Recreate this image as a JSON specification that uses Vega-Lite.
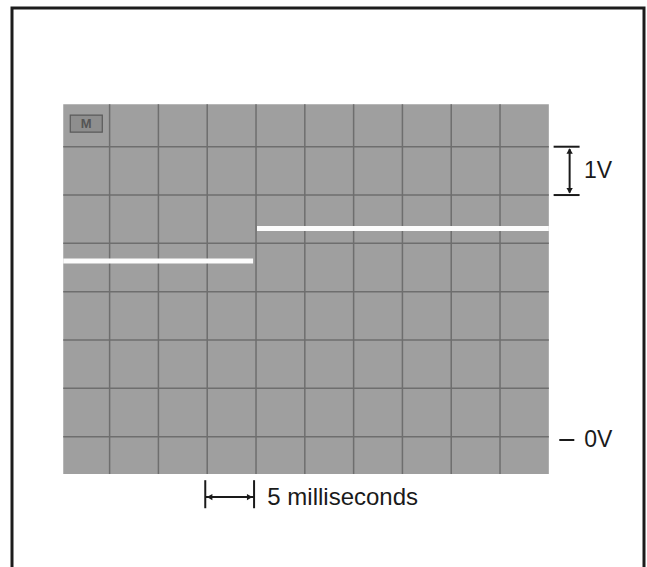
{
  "$schema": "https://vega.github.io/schema/vega-lite/v6.json",
  "width": 632,
  "height": 562,
  "autosize": {"type": "none"},
  "padding": {"left": 12, "top": 8, "right": 3, "bottom": 0},
  "background": "#ffffff",
  "config": {"view": {"stroke": "#1c1c1c", "strokeWidth": 3}},
  "datasets": {
    "screen": [{"t": 0.25, "t_end": 50, "v": -0.77, "v_end": 6.88}],
    "vgrid": [
      {"t": 5, "v": -0.77, "v_end": 6.88},
      {"t": 10, "v": -0.77, "v_end": 6.88},
      {"t": 15, "v": -0.77, "v_end": 6.88},
      {"t": 20, "v": -0.77, "v_end": 6.88},
      {"t": 25, "v": -0.77, "v_end": 6.88},
      {"t": 30, "v": -0.77, "v_end": 6.88},
      {"t": 35, "v": -0.77, "v_end": 6.88},
      {"t": 40, "v": -0.77, "v_end": 6.88},
      {"t": 45, "v": -0.77, "v_end": 6.88}
    ],
    "hgrid": [
      {"t": 0.25, "t_end": 50, "v": 0},
      {"t": 0.25, "t_end": 50, "v": 1},
      {"t": 0.25, "t_end": 50, "v": 2},
      {"t": 0.25, "t_end": 50, "v": 3},
      {"t": 0.25, "t_end": 50, "v": 4},
      {"t": 0.25, "t_end": 50, "v": 5},
      {"t": 0.25, "t_end": 50, "v": 6}
    ],
    "trace": [
      {"t": 0.25, "t_end": 19.7, "v": 3.635},
      {"t": 20.1, "t_end": 50, "v": 4.31}
    ],
    "hticks": [
      {"t": 50.49, "t_end": 53.15, "v": 6},
      {"t": 50.49, "t_end": 53.15, "v": 5},
      {"t": 14.8, "t_end": 19.8, "v": -1.25},
      {"t": 51.07, "t_end": 52.61, "v": -0.068}
    ],
    "vticks": [
      {"t": 52.13, "v": 5.05, "v_end": 5.95},
      {"t": 14.8, "v": -0.9, "v_end": -1.48},
      {"t": 19.8, "v": -0.9, "v_end": -1.48}
    ],
    "heads": [
      {"t": 52.13, "v": 5.91, "dir": "triangle-up"},
      {"t": 52.13, "v": 5.09, "dir": "triangle-down"},
      {"t": 15.25, "v": -1.25, "dir": "triangle-left"},
      {"t": 19.35, "v": -1.25, "dir": "triangle-right"}
    ],
    "labels": [
      {"t": 53.6, "v": 5.5, "label": "1V"},
      {"t": 53.63, "v": -0.07, "label": "0V"}
    ],
    "caption": [
      {"t": 21.16, "v": -1.258, "label": "5 milliseconds"}
    ],
    "mbox": [{"t": 0.97, "t_end": 4.25, "v": 6.3, "v_end": 6.654, "label": "M", "tc": 2.61, "vc": 6.477}]
  },
  "encoding": {
    "x": {"field": "t", "type": "quantitative", "scale": {"domain": [-5, 59.75], "nice": false, "zero": false}, "axis": null},
    "y": {"field": "v", "type": "quantitative", "scale": {"domain": [-2.758, 8.87], "nice": false, "zero": false}, "axis": null}
  },
  "layer": [
    {
      "data": {"name": "screen"},
      "mark": {"type": "rect", "color": "#9f9f9f"},
      "encoding": {"x2": {"field": "t_end"}, "y2": {"field": "v_end"}}
    },
    {
      "data": {"name": "vgrid"},
      "mark": {"type": "rule", "color": "#6e6e6e", "strokeWidth": 1.5},
      "encoding": {"y2": {"field": "v_end"}}
    },
    {
      "data": {"name": "hgrid"},
      "mark": {"type": "rule", "color": "#6e6e6e", "strokeWidth": 1.5},
      "encoding": {"x2": {"field": "t_end"}}
    },
    {
      "data": {"name": "mbox"},
      "mark": {"type": "rect", "fill": "#8e8e8e", "stroke": "#5a5a5a", "strokeWidth": 1.2},
      "encoding": {"x2": {"field": "t_end"}, "y2": {"field": "v_end"}}
    },
    {
      "data": {"name": "mbox"},
      "mark": {"type": "text", "color": "#555555", "font": "Liberation Sans", "fontSize": 13, "fontWeight": "bold", "align": "center", "baseline": "middle"},
      "encoding": {"x": {"field": "tc", "type": "quantitative"}, "y": {"field": "vc", "type": "quantitative"}, "text": {"field": "label"}}
    },
    {
      "data": {"name": "trace"},
      "mark": {"type": "rule", "color": "#fcfcfc", "strokeWidth": 5, "strokeCap": "butt"},
      "encoding": {"x2": {"field": "t_end"}}
    },
    {
      "data": {"name": "hticks"},
      "mark": {"type": "rule", "color": "#1a1a1a", "strokeWidth": 2},
      "encoding": {"x2": {"field": "t_end"}}
    },
    {
      "data": {"name": "vticks"},
      "mark": {"type": "rule", "color": "#1a1a1a", "strokeWidth": 2},
      "encoding": {"y2": {"field": "v_end"}}
    },
    {
      "data": {"name": "heads"},
      "mark": {"type": "point", "filled": true, "color": "#1a1a1a", "size": 40, "opacity": 1},
      "encoding": {"shape": {"field": "dir", "type": "nominal", "scale": null, "legend": null}}
    },
    {
      "data": {"name": "labels"},
      "mark": {"type": "text", "color": "#1a1a1a", "font": "Liberation Sans", "fontSize": 23, "align": "left", "baseline": "middle"},
      "encoding": {"text": {"field": "label"}}
    },
    {
      "data": {"name": "caption"},
      "mark": {"type": "text", "color": "#1a1a1a", "font": "Liberation Sans", "fontSize": 24, "align": "left", "baseline": "middle"},
      "encoding": {"text": {"field": "label"}}
    }
  ]
}
